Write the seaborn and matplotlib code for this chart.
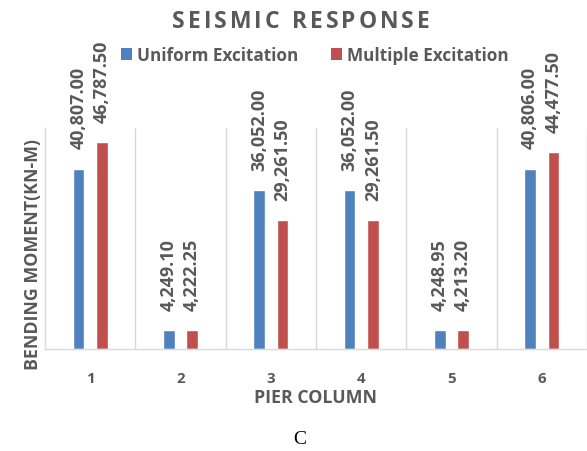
import matplotlib
matplotlib.use("Agg")
import matplotlib.pyplot as plt
import seaborn as sns
import pandas as pd
from matplotlib.patches import Patch
from matplotlib.textpath import TextPath
from matplotlib.font_manager import FontProperties

piers = ["1", "2", "3", "4", "5", "6"]
series_names = ["Uniform Excitation", "Multiple Excitation"]
uniform = [40807.00, 4249.10, 36052.00, 36052.00, 4248.95, 40806.00]
multiple = [46787.50, 4222.25, 29261.50, 29261.50, 4213.20, 44477.50]
colors = ["#4F81BD", "#C0504D"]
GRAY = "#595959"
LINE = "#D9D9D9"

df = pd.DataFrame({
    "pier": piers * 2,
    "series": [series_names[0]] * 6 + [series_names[1]] * 6,
    "value": uniform + multiple,
})

sns.set_theme(style="white")
plt.rcParams["font.family"] = ["Open Sans", "DejaVu Sans"]

W, H = 587, 452
fig = plt.figure(figsize=(W / 100, H / 100), dpi=100)
ax = fig.add_axes([45 / W, 1 - 350 / H, 542 / W, 221 / H])

sns.barplot(data=df, x="pier", y="value", hue="series", hue_order=series_names,
            order=piers, palette=colors, width=0.52, gap=0.5, ax=ax,
            saturation=1, legend=False, errorbar=None)

ax.set_xlim(-0.5, 5.5)
ax.set_ylim(0, 50000)
ax.set_yticks([])
ax.set_xlabel("")
ax.set_ylabel("")
ax.tick_params(axis="x", length=0, pad=16, labelsize=10.8, labelcolor=GRAY)
for lbl in ax.get_xticklabels():
    lbl.set_fontweight("bold")

for s in ["top", "right"]:
    ax.spines[s].set_visible(False)
for s in ["left", "bottom"]:
    ax.spines[s].set_color(LINE)
    ax.spines[s].set_linewidth(1)
for xv in [0.5, 1.5, 2.5, 3.5, 4.5, 5.5]:
    ax.axvline(xv, color=LINE, lw=1, zorder=0)

for cont, vals in zip(ax.containers, [uniform, multiple]):
    ax.bar_label(cont, labels=[f"{v:,.2f}" for v in vals], rotation=90,
                 padding=14.5, fontsize=13, fontweight="bold", color=GRAY)

# Title with letter tracking
title = "SEISMIC RESPONSE"
tsize = 16.5
fp = FontProperties(family="Open Sans", weight="bold", size=tsize)
px_per_pt = 100 / 72
base = TextPath((0, 0), "aa", prop=fp).get_extents().width
widths = []
for ch in title:
    w = TextPath((0, 0), "a" + ch + "a", prop=fp).get_extents().width - base
    widths.append(w * px_per_pt)
track = 3.0
total = sum(widths) + track * (len(title) - 1)
x = 301 - total / 2
for ch, w in zip(title, widths):
    if ch != " ":
        fig.text((x + w / 2) / W, 1 - 22 / H, ch, ha="center", va="center",
                 fontsize=tsize, fontweight="bold", color=GRAY)
    x += w + track

handles = [Patch(facecolor=c, edgecolor="none", label=n) for c, n in zip(colors, series_names)]
fig.legend(handles=handles, loc="center", bbox_to_anchor=(314.5 / W, 1 - 56 / H),
           ncol=2, frameon=False, handlelength=0.65, handleheight=0.65,
           handletextpad=0.3, columnspacing=1.9,
           prop={"size": 12.3, "weight": "bold"}, labelcolor=GRAY)

fig.text(315 / W, 1 - 398 / H, "PIER COLUMN", ha="center", va="center",
         fontsize=12.8, fontweight="bold", color=GRAY)
fig.text(33 / W, 1 - 255 / H, "BENDING MOMENT(KN-M)", ha="center", va="center",
         rotation=90, fontsize=12.8, fontweight="bold", color=GRAY)
fig.text(300 / W, 1 - 440 / H, "C", ha="center", va="center",
         fontsize=14, family="Liberation Serif", color="black")

fig.savefig("out.png", dpi=100, facecolor="white")
